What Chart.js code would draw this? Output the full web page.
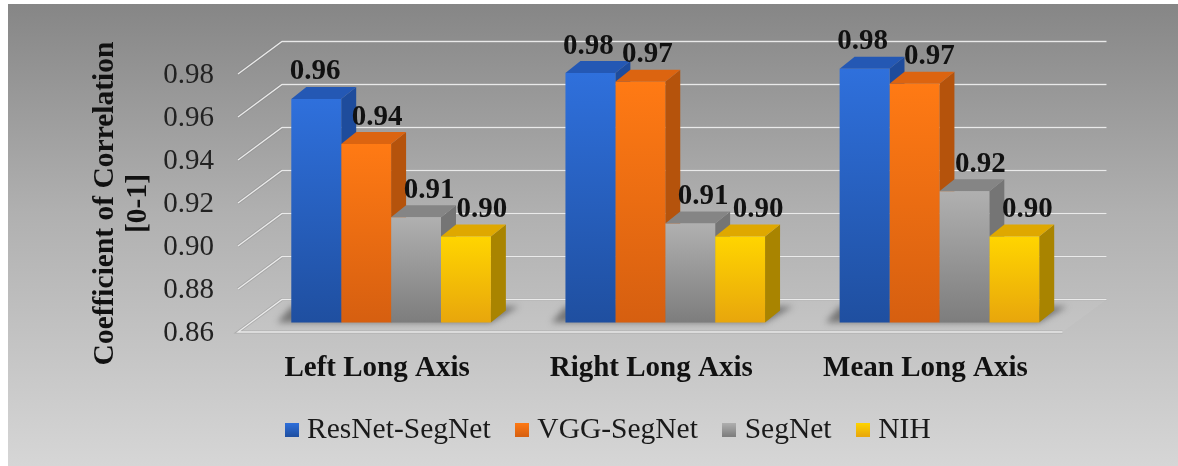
<!DOCTYPE html>
<html>
<head>
<meta charset="utf-8">
<title>Coefficient of Correlation</title>
<script src="https://cdn.jsdelivr.net/npm/chart.js@4/dist/chart.umd.min.js"></script>
<style>
  html, body { margin: 0; padding: 0; background: #fff; }
  #wrap { width: 1178px; height: 466px; }
</style>
</head>
<body>
<div id="wrap"><canvas id="chart" width="1178" height="466"></canvas></div>
<script>
const categories = ["Left Long Axis", "Right Long Axis", "Mean Long Axis"];
const resnetSegnet = [0.964, 0.976, 0.978];
const vggSegnet = [0.943, 0.972, 0.971];
const segnet = [0.909, 0.906, 0.921];
const nih = [0.900, 0.900, 0.900];
const yTicks = [0.86, 0.88, 0.90, 0.92, 0.94, 0.96, 0.98];
const axisTitle = ["Coefficient of Correlation", "[0-1]"];

const SERIF = "'Liberation Serif', 'Times New Roman', serif";

// depth of the 3D box: floor front edge -> bar front -> bar back -> back wall
const FRONT = { dx: -16, dy: 9.5 };
const BAR_DEPTH = { dx: 15, dy: -12 };
const WALL = { dx: 28, dy: -23 };

const COLORS = [
  { top: "#2f70dc", bottom: "#1f4fa0", cap: "#2458b4", side: "#1e4c9c" },
  { top: "#ff7a14", bottom: "#d65f10", cap: "#dc6410", side: "#b5530c" },
  { top: "#b0b0b0", bottom: "#7d7d7d", cap: "#858585", side: "#757575" },
  { top: "#ffd500", bottom: "#e8a60c", cap: "#dfa800", side: "#a98400" }
];
// horizontal nudge of each value label, per series then per category
const LABEL_NUDGE = [[-1, -2, -2], [11, 7, 15], [13, 13, 16], [16, 18, 13]];

function poly(ctx, pts, fill) {
  ctx.beginPath();
  pts.forEach(([x, y], i) => (i ? ctx.lineTo(x, y) : ctx.moveTo(x, y)));
  ctx.closePath();
  ctx.fillStyle = fill;
  ctx.fill();
}

function frontGradient(context, i) {
  const { chart } = context;
  if (!chart.chartArea) return COLORS[i].top;
  const y = chart.scales.y;
  const v = context.raw;
  const top = y.getPixelForValue(typeof v === "number" ? v : y.max);
  const g = chart.ctx.createLinearGradient(0, top, 0, y.bottom);
  g.addColorStop(0, COLORS[i].top);
  g.addColorStop(1, COLORS[i].bottom);
  return g;
}

const pagePlugin = {
  id: "page",
  afterLayout(chart) {
    // legend sits off the plot's centre and higher than the layout puts it
    chart.legend.left = 145.5;
    chart.legend.top = 384;
  },
  beforeDraw(chart) {
    const ctx = chart.ctx;
    const g = ctx.createLinearGradient(0, 4, 0, 466);
    g.addColorStop(0, "#868686");
    g.addColorStop(0.45, "#b0b0b0");
    g.addColorStop(1, "#d6d6d6");
    ctx.save();
    ctx.fillStyle = g;
    ctx.fillRect(8, 4, 1170, 462);
    ctx.restore();
  },
  afterDraw(chart) {
    // y axis title runs lower than the scale's own centre, so it is placed by hand
    const ctx = chart.ctx;
    ctx.save();
    ctx.font = "bold 29.5px " + SERIF;
    ctx.fillStyle = "#111";
    ctx.textAlign = "center";
    ctx.textBaseline = "middle";
    axisTitle.forEach((line, i) => {
      ctx.save();
      ctx.translate(105 + i * 33, 203.5);
      ctx.rotate(-Math.PI / 2);
      ctx.fillText(line, 0, 0);
      ctx.restore();
    });
    ctx.restore();
  }
};

const boxPlugin = {
  id: "box3d",
  beforeDatasetsDraw(chart) {
    const ctx = chart.ctx;
    const y = chart.scales.y;
    const { left, right } = chart.chartArea;
    const x0 = left + FRONT.dx;
    const x1 = right + FRONT.dx + 2;
    const wx = FRONT.dx * -1 + WALL.dx;
    const wy = FRONT.dy * -1 + WALL.dy;
    ctx.save();

    // floor
    const fy = y.getPixelForValue(y.min) + FRONT.dy;
    poly(ctx, [[x0, fy], [x1, fy], [x1 + wx, fy + wy], [x0 + wx, fy + wy]], "rgba(214,214,214,0.15)");

    // wall gridlines, one per tick; the lowest one also runs along the floor's front edge
    yTicks.forEach((t) => {
      const py = y.getPixelForValue(t) + FRONT.dy;
      const isFloor = t === y.min;
      ctx.beginPath();
      if (isFloor) {
        ctx.moveTo(x1, py);
        ctx.lineTo(x0, py);
      } else {
        ctx.moveTo(x0, py);
      }
      ctx.lineTo(x0 + wx, py + wy);
      ctx.lineTo(x1 + wx, py + wy);
      ctx.strokeStyle = "rgba(120,120,120,0.3)";
      ctx.lineWidth = 3;
      ctx.stroke();
      ctx.strokeStyle = "rgba(238,238,238,0.95)";
      ctx.lineWidth = 1.3;
      ctx.stroke();
    });

    // soft shadow under each group of bars
    const metas = chart.data.datasets.map((_, i) => chart.getDatasetMeta(i));
    const base = y.getPixelForValue(y.min);
    categories.forEach((_, c) => {
      const a = metas[0].data[c];
      const b = metas[metas.length - 1].data[c];
      const xa = a.x - a.width / 2;
      const xb = b.x + b.width / 2;
      ctx.save();
      ctx.filter = "blur(3px)";
      poly(ctx, [[xa - 14, base], [xb, base], [xb + 28, base - 16], [xa, base - 16]], "rgba(85,85,85,0.7)");
      ctx.restore();
    });

    // side and top faces, left to right so later bars overlap earlier ones
    categories.forEach((_, c) => {
      metas.forEach((meta, i) => {
        const bar = meta.data[c];
        const l = bar.x - bar.width / 2;
        const r = bar.x + bar.width / 2;
        const d = BAR_DEPTH;
        poly(ctx, [[r, bar.y], [r + d.dx, bar.y + d.dy], [r + d.dx, base + d.dy], [r, base]], COLORS[i].side);
        poly(ctx, [[l, bar.y], [r, bar.y], [r + d.dx, bar.y + d.dy], [l + d.dx, bar.y + d.dy]], COLORS[i].cap);
      });
    });
    ctx.restore();
  },
  afterDatasetsDraw(chart) {
    // value labels, rounded to two places
    const ctx = chart.ctx;
    ctx.save();
    ctx.font = "bold 29px " + SERIF;
    ctx.fillStyle = "#111";
    ctx.textAlign = "center";
    ctx.textBaseline = "middle";
    chart.data.datasets.forEach((ds, i) => {
      chart.getDatasetMeta(i).data.forEach((bar, c) => {
        ctx.fillText(ds.data[c].toFixed(2), bar.x + LABEL_NUDGE[i][c], bar.y - 27);
      });
    });
    ctx.restore();
  }
};

function legendSwatch(i) {
  const c = document.createElement("canvas");
  c.width = 14;
  c.height = 14;
  const x = c.getContext("2d");
  const g = x.createLinearGradient(0, 0, 0, 14);
  g.addColorStop(0, COLORS[i].top);
  g.addColorStop(1, COLORS[i].bottom);
  x.fillStyle = g;
  x.fillRect(0, 0, 14, 14);
  return c;
}

function dataset(label, data, i) {
  return {
    label,
    data,
    backgroundColor: (context) => frontGradient(context, i),
    pointStyle: legendSwatch(i)
  };
}

new Chart(document.getElementById("chart"), {
  type: "bar",
  plugins: [pagePlugin, boxPlugin],
  data: {
    labels: categories,
    datasets: [
      dataset("ResNet-SegNet", resnetSegnet, 0),
      dataset("VGG-SegNet", vggSegnet, 1),
      dataset("SegNet", segnet, 2),
      dataset("NIH", nih, 3)
    ]
  },
  options: {
    responsive: false,
    animation: false,
    categoryPercentage: 0.728,
    barPercentage: 1,
    layout: { padding: { left: 90, right: 101.5, top: 64.5, bottom: 0 } },
    plugins: {
      tooltip: { enabled: false },
      legend: {
        position: "bottom",
        labels: {
          usePointStyle: true,
          pointStyleWidth: 1,
          padding: 31,
          color: "#1a1a1a",
          font: { family: SERIF, size: 29.5 }
        }
      }
    },
    scales: {
      x: {
        grid: { display: false },
        border: { display: false },
        ticks: {
          color: "#111",
          padding: 21,
          labelOffset: -14,
          maxRotation: 0,
          font: { family: SERIF, size: 29, weight: "bold" }
        },
        afterFit(scale) { scale.height = 73; }
      },
      y: {
        min: 0.86,
        max: 0.98,
        grid: { display: false },
        border: { display: false },
        afterBuildTicks(scale) { scale.ticks = yTicks.map((value) => ({ value })); },
        ticks: {
          color: "#222",
          padding: 32,
          labelOffset: 10.5,
          callback: (v) => v.toFixed(2),
          font: { family: SERIF, size: 29 }
        },
        afterFit(scale) { scale.width = 164; }
      }
    }
  }
});
</script>
</body>
</html>
